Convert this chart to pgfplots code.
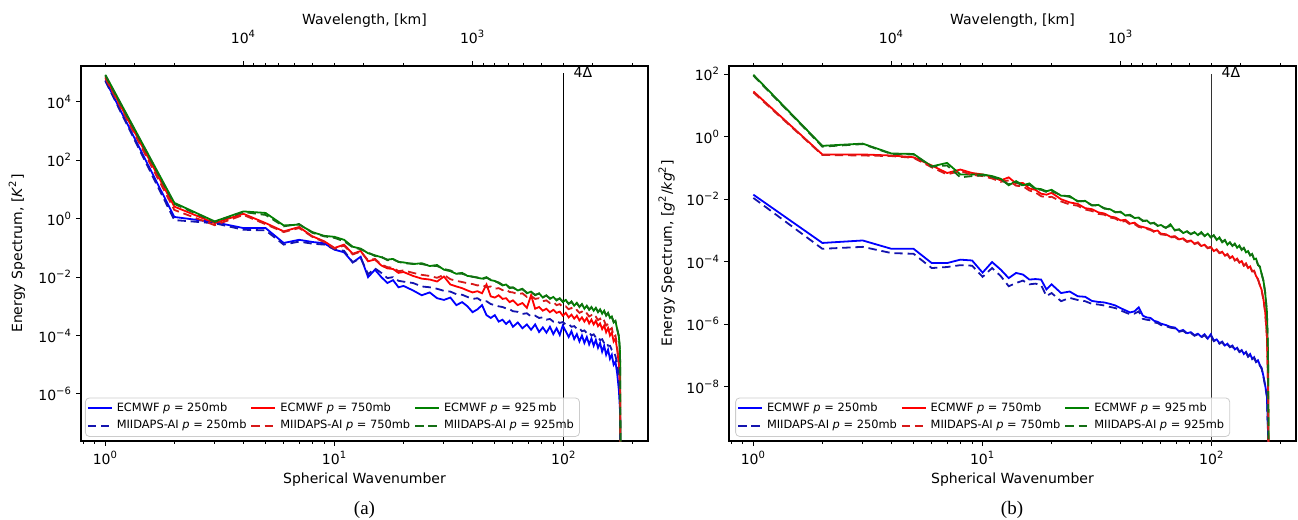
\documentclass[border=0pt]{standalone}
\usepackage{fontspec}
\setmainfont{DejaVu Sans}[ItalicFont={DejaVu Sans Oblique}]
\newfontfamily\capfont{Liberation Serif}
\usepackage{pgfplots}
\pgfplotsset{compat=1.18}
\definecolor{mblue}{RGB}{0,0,255}
\definecolor{mred}{RGB}{255,0,0}
\definecolor{mgreen}{RGB}{0,128,0}
\definecolor{dblue}{RGB}{20,20,175}
\definecolor{dred}{RGB}{215,25,25}
\definecolor{dgreen}{RGB}{20,110,20}
\pgfplotsset{legend image code/.code={\draw[#1] (0pt,0pt) -- (12pt,0pt);}}
\tikzset{mysol/.style={line width=0.9pt}, mydas/.style={line width=0.9pt, dash pattern=on 4.2pt off 2.4pt}}
\begin{document}
\begin{tikzpicture}
\useasboundingbox (0,0) rectangle (649pt,260pt);
% ================= panel (a) =================
\begin{axis}[at={(40.5pt,39.5pt)}, anchor=south west,
    scale only axis, width=283.5pt, height=187.5pt,
    xmode=log, ymode=log, xmin=0.783, xmax=233,
    ymin=2.45e-8, ymax=1.7e5,
    font=\fontsize{7}{8.4}\selectfont,
    axis line style={line width=0.6pt},
    tick align=outside, major tick length=2.5pt, minor tick length=1.5pt,
    tick style={black, line width=0.5pt},
    xtick={1,10,100},
    xticklabels={10\textsuperscript{0},10\textsuperscript{1},10\textsuperscript{2}},
    xticklabel style={yshift=0.8pt},
    yticklabel style={xshift=1.5pt},
    minor xtick={0.8,0.9,2,3,4,5,6,7,8,9,20,30,40,50,60,70,80,90,200},
    xtick pos=left, ytick pos=left,
    minor y tick style={draw=none},
    ytick={1e-6,1e-4,1e-2,1,1e2,1e4},
    yticklabels={10\textsuperscript{−6},10\textsuperscript{−4},10\textsuperscript{−2},10\textsuperscript{0},10\textsuperscript{2},10\textsuperscript{4}},
    xlabel={Spherical Wavenumber},
    xlabel style={at={(axis description cs:0.5,-0.104)}, anchor=center},
    ylabel={Energy Spectrum, [\textit{K}\textsuperscript{2}]},
    ylabel style={at={(axis description cs:-0.113,0.5)}, anchor=center},
    legend columns=3, legend cell align=left,
    legend style={at={(axis description cs:0.007,0.011)}, anchor=south west,
      font=\fontsize{5.7}{6.8}\selectfont, draw=black!20, fill=white,
      fill opacity=0.8, text opacity=1, rounded corners=2pt, inner sep=0.8pt, row sep=0pt,
      nodes={inner ysep=1.5pt}},
    legend style={every even column/.append style={column sep=13pt}},
    legend style={every odd column/.append style={column sep=3.5pt}},
]
\addplot[black, line width=0.5pt, forget plot] coordinates {(100,1e-12) (100,1e5)};
% ECMWF 250
\addplot[mysol, mblue] coordinates {(1,5.5e4)(2,1.15)(3,0.76)(4,0.48)(5,0.48)(6,0.148)(7,0.19)(8,0.16)(9,0.145)(10,0.087)(11,0.071)(12,0.032)(13,0.050)(14,0.010)(15,0.018)(16,0.010)(17,0.0063)(18,0.0079)(19,0.0045)(20,0.0050)(22,0.0035)(24,0.0024)(26,0.0030)(28,0.0019)(30,0.00166)(32,0.0020)(34,0.0011)(36,0.0014)(38,0.0010)(40,0.00063)(42,0.00079)(44,0.0011)(46,0.0005)(48,0.0004)(50,0.0005)(52,0.0003)(54,0.00035)(56,0.00025)(58,0.00032)(60,0.0002)(63,0.00028)(66,0.000178)(69,0.00024)(72,0.000158)(75,0.00024)(78,0.000132)(81,0.00019)(84,0.000126)(87,0.0002)(90,0.000112)(93,0.000178)(96,0.000105)(99,0.00022)(102,0.00014)(105,8.9e-5)(108,0.00014)(111,7.6e-5)(114,0.000112)(117,6.3e-5)(120,1.0e-4)(123,5.6e-5)(126,8.9e-5)(129,5.0e-5)(132,7.9e-5)(135,4.5e-5)(138,7.1e-5)(141,3.8e-5)(144,5.6e-5)(147,2.8e-5)(150,4.5e-5)(153,2.2e-5)(156,3.3e-5)(159,1.6e-5)(162,2.2e-5)(165,1.0e-5)(168,1.26e-5)(171,5.0e-6)(174,1.26e-6)(176,2.5e-7)(178,1e-14)};
\addlegendentry{ECMWF \textit{p} = 250mb}
% ECMWF 750
\addplot[mysol, mred] coordinates {(1,7.0e4)(2,2.6)(3,0.71)(4,1.48)(5,0.71)(6,0.37)(7,0.52)(8,0.25)(9,0.17)(10,0.10)(11,0.13)(12,0.063)(13,0.079)(14,0.035)(15,0.040)(16,0.025)(17,0.020)(18,0.019)(19,0.014)(20,0.015)(22,0.011)(24,0.0089)(26,0.0083)(28,0.0071)(30,0.0105)(32,0.0056)(34,0.0048)(36,0.0042)(38,0.0035)(40,0.0030)(42,0.0033)(44,0.0028)(46,0.0056)(48,0.0022)(50,0.0020)(52,0.0024)(54,0.0018)(56,0.0019)(58,0.0014)(60,0.0016)(63,0.0011)(66,0.0013)(69,0.00089)(72,0.0024)(75,0.00083)(78,0.00095)(81,0.00071)(84,0.00083)(87,0.00063)(90,0.00076)(93,0.0006)(96,0.00066)(99,0.00048)(102,0.0006)(105,0.00042)(108,0.00052)(111,0.00038)(114,0.00048)(117,0.00033)(120,0.00042)(123,0.0003)(126,0.0004)(129,0.00026)(132,0.00035)(135,0.00024)(138,0.00032)(141,0.00021)(144,0.00026)(147,0.000166)(150,0.00022)(153,0.00013)(156,0.00018)(159,1.0e-4)(162,0.000126)(165,6.3e-5)(168,7.9e-5)(171,3.2e-5)(174,1e-5)(176,1.6e-6)(178,1e-14)};
\addlegendentry{ECMWF \textit{p} = 750mb}
% ECMWF 925
\addplot[mysol, mgreen] coordinates {(1,8.5e4)(2,3.5)(3,0.81)(4,1.78)(5,1.58)(6,0.59)(7,0.63)(8,0.35)(9,0.26)(10,0.24)(11,0.19)(12,0.11)(13,0.095)(14,0.066)(15,0.056)(16,0.048)(17,0.040)(18,0.042)(19,0.033)(20,0.032)(22,0.028)(24,0.030)(26,0.024)(28,0.026)(30,0.018)(32,0.016)(34,0.013)(36,0.014)(38,0.011)(40,0.0105)(42,0.0095)(44,0.0089)(46,0.010)(48,0.0079)(50,0.0074)(52,0.0063)(54,0.0052)(56,0.0056)(58,0.0042)(60,0.0045)(63,0.0035)(66,0.0040)(69,0.0028)(72,0.0032)(75,0.0024)(78,0.0028)(81,0.0020)(84,0.0024)(87,0.0018)(90,0.0021)(93,0.0016)(96,0.0019)(99,0.0014)(102,0.00166)(105,0.0012)(108,0.00148)(111,0.00105)(114,0.00132)(117,0.00095)(120,0.0012)(123,0.00083)(126,0.00105)(129,0.00076)(132,0.00095)(135,0.00071)(138,0.00089)(141,0.00063)(144,0.00079)(147,0.00056)(150,0.00071)(153,0.00048)(156,0.0006)(159,0.0004)(162,0.00045)(165,0.00028)(168,0.00032)(171,0.00016)(174,8.9e-5)(176,2.5e-5)(178,1e-14)};
\addlegendentry{ECMWF \textit{p} = 925\,mb}
% MIIDAPS 250
\addplot[mydas, dblue] coordinates {(1,5.2e4)(2,0.9)(3,0.7)(4,0.42)(5,0.40)(6,0.13)(7,0.165)(8,0.14)(9,0.13)(10,0.09)(11,0.08)(12,0.032)(13,0.045)(14,0.0126)(15,0.02)(16,0.014)(17,0.0093)(18,0.01)(19,0.0075)(20,0.007)(22,0.0063)(24,0.0048)(26,0.0045)(28,0.0040)(30,0.0034)(32,0.0032)(34,0.0026)(36,0.0025)(38,0.0021)(40,0.0018)(42,0.0019)(44,0.0015)(46,0.0015)(48,0.0012)(50,0.0011)(52,0.001)(54,0.00095)(56,0.00085)(58,0.0008)(60,0.00068)(63,0.00065)(66,0.00055)(69,0.00058)(72,0.00045)(75,0.00048)(78,0.0004)(81,0.00042)(84,0.00035)(87,0.00037)(90,0.0003)(93,0.00032)(96,0.00027)(99,0.00029)(102,0.00024)(105,0.00025)(108,0.0002)(111,0.00021)(114,0.00017)(117,0.00018)(120,0.00014)(123,0.00015)(126,0.00012)(129,0.00013)(132,0.0001)(135,0.00011)(138,8.5e-5)(141,9e-5)(144,7e-5)(147,7.5e-5)(150,5.5e-5)(153,6e-5)(156,4.5e-5)(159,4.5e-5)(162,3.2e-5)(165,2.8e-5)(168,2e-5)(171,1.1e-5)(174,3e-6)(176,5e-7)(178,1e-14)};
\addlegendentry{MIIDAPS-AI \textit{p} = 250mb}
% MIIDAPS 750
\addplot[mydas, dred] coordinates {(1,6.5e4)(2,2.0)(3,0.6)(4,1.35)(5,0.65)(6,0.35)(7,0.48)(8,0.24)(9,0.16)(10,0.095)(11,0.12)(12,0.06)(13,0.075)(14,0.038)(15,0.042)(16,0.027)(17,0.022)(18,0.021)(19,0.016)(20,0.017)(22,0.014)(24,0.012)(26,0.011)(28,0.0095)(30,0.012)(32,0.0085)(34,0.0075)(36,0.0068)(38,0.0062)(40,0.0058)(42,0.0052)(44,0.0055)(46,0.0045)(48,0.0048)(50,0.0040)(52,0.0042)(54,0.0036)(56,0.0038)(58,0.0031)(60,0.0030)(63,0.0026)(66,0.0028)(69,0.0021)(72,0.0023)(75,0.0018)(78,0.0019)(81,0.0015)(84,0.0016)(87,0.0013)(90,0.0014)(93,0.0011)(96,0.0012)(99,0.00095)(102,0.001)(105,0.0008)(108,0.00088)(111,0.0007)(114,0.00075)(117,0.0006)(120,0.00066)(123,0.00052)(126,0.00058)(129,0.00045)(132,0.0005)(135,0.0004)(138,0.00044)(141,0.00034)(144,0.00038)(147,0.00028)(150,0.00032)(153,0.00022)(156,0.00025)(159,0.00016)(162,0.00018)(165,9e-5)(168,1e-4)(171,4e-5)(174,1.2e-5)(176,2e-6)(178,1e-14)};
\addlegendentry{MIIDAPS-AI \textit{p} = 750mb}
% MIIDAPS 925
\addplot[mydas, dgreen] coordinates {(1,8.0e4)(2,3.2)(3,0.78)(4,1.7)(5,1.35)(6,0.55)(7,0.66)(8,0.33)(9,0.25)(10,0.22)(11,0.17)(12,0.105)(13,0.09)(14,0.07)(15,0.053)(16,0.05)(17,0.038)(18,0.04)(19,0.034)(20,0.03)(22,0.029)(24,0.028)(26,0.025)(28,0.024)(30,0.019)(32,0.017)(34,0.0135)(36,0.013)(38,0.0115)(40,0.0102)(42,0.0098)(44,0.0085)(46,0.0095)(48,0.0082)(50,0.0072)(52,0.0066)(54,0.0055)(56,0.0054)(58,0.0045)(60,0.0043)(63,0.0037)(66,0.0038)(69,0.003)(72,0.003)(75,0.0025)(78,0.0027)(81,0.0021)(84,0.0023)(87,0.0019)(90,0.002)(93,0.0017)(96,0.0018)(99,0.0015)(102,0.0016)(105,0.00125)(108,0.0014)(111,0.0011)(114,0.00125)(117,0.001)(120,0.00115)(123,0.00088)(126,0.001)(129,0.0008)(132,0.0009)(135,0.00074)(138,0.00085)(141,0.00066)(144,0.00075)(147,0.00059)(150,0.00068)(153,0.0005)(156,0.00058)(159,0.00042)(162,0.00043)(165,0.0003)(168,0.0003)(171,0.00017)(174,9.5e-5)(176,2.8e-5)(178,1e-14)};
\addlegendentry{MIIDAPS-AI \textit{p} = 925mb}
\node[anchor=base west, inner sep=0pt] at (axis cs:110,7.0e4) {4Δ};
\end{axis}
\begin{axis}[at={(40.5pt,39.5pt)}, anchor=south west,
    scale only axis, width=283.5pt, height=187.5pt,
    xmode=log, xmin=0.783, xmax=233, ymin=0, ymax=1,
    font=\fontsize{7}{8.4}\selectfont,
    axis x line*=top, axis y line=none,
    axis line style={line width=0.6pt},
    tick align=outside, major tick length=2.5pt, minor tick length=1.5pt,
    tick style={black, line width=0.5pt},
    xtick={4.003,40.03}, xticklabels={10\textsuperscript{4},10\textsuperscript{3}},
    xticklabel style={yshift=5pt},
    minor xtick={1.00075,1.3343,2.0015,4.448,5.004,5.719,6.672,8.006,10.0075,13.343,20.015,44.48,50.04,57.19,66.72,80.06,100.075,133.43,200.15},
    xlabel={Wavelength, [km]},
    xlabel style={at={(axis description cs:0.5,1.12)}, anchor=center}]
\addplot[draw=none, forget plot] coordinates {(1,0.5)};
\end{axis}
% ================= panel (b) =================
\begin{axis}[at={(364.5pt,39.5pt)}, anchor=south west,
    scale only axis, width=283.5pt, height=187.5pt,
    xmode=log, ymode=log, xmin=0.783, xmax=233,
    ymin=1.86e-10, ymax=182,
    font=\fontsize{7}{8.4}\selectfont,
    axis line style={line width=0.6pt},
    tick align=outside, major tick length=2.5pt, minor tick length=1.5pt,
    tick style={black, line width=0.5pt},
    xtick={1,10,100},
    xticklabels={10\textsuperscript{0},10\textsuperscript{1},10\textsuperscript{2}},
    xticklabel style={yshift=0.8pt},
    yticklabel style={xshift=1.5pt},
    minor xtick={0.8,0.9,2,3,4,5,6,7,8,9,20,30,40,50,60,70,80,90,200},
    xtick pos=left, ytick pos=left,
    minor y tick style={draw=none},
    ytick={1e-8,1e-6,1e-4,1e-2,1,1e2},
    yticklabels={10\textsuperscript{−8},10\textsuperscript{−6},10\textsuperscript{−4},10\textsuperscript{−2},10\textsuperscript{0},10\textsuperscript{2}},
    xlabel={Spherical Wavenumber},
    xlabel style={at={(axis description cs:0.5,-0.104)}, anchor=center},
    ylabel={Energy Spectrum, [\textit{g}\textsuperscript{2}/\textit{kg}\textsuperscript{2}]},
    ylabel style={at={(axis description cs:-0.110,0.5)}, anchor=center},
    legend columns=3, legend cell align=left,
    legend style={at={(axis description cs:0.011,0.011)}, anchor=south west,
      font=\fontsize{5.7}{6.8}\selectfont, draw=black!20, fill=white,
      fill opacity=0.8, text opacity=1, rounded corners=2pt, inner sep=0.8pt, row sep=0pt,
      nodes={inner ysep=1.5pt}},
    legend style={every even column/.append style={column sep=13pt}},
    legend style={every odd column/.append style={column sep=3.5pt}},
]
\addplot[black!80, line width=0.5pt, forget plot] coordinates {(100,1e-14) (100,1e2)};
% ECMWF 250
\addplot[mysol, mblue] coordinates {(1,0.014)(2,4.0e-4)(3,4.8e-4)(4,2.6e-4)(5,2.6e-4)(6,9.1e-5)(7,9.1e-5)(8,1.17e-4)(9,1.1e-4)(10,4.5e-5)(11,9.8e-5)(12,5.6e-5)(13,3.0e-5)(14,4.4e-5)(15,3.9e-5)(16,2.7e-5)(17,2.8e-5)(18,2.7e-5)(19,1.3e-5)(20,1.9e-5)(22,1.0e-5)(24,1.12e-5)(26,7.9e-6)(28,7.6e-6)(30,5.6e-6)(32,5.2e-6)(34,5.0e-6)(36,4.5e-6)(38,4.0e-6)(40,3.3e-6)(42,2.8e-6)(44,2.4e-6)(46,2.6e-6)(48,3.5e-6)(50,1.9e-6)(52,1.66e-6)(54,1.6e-6)(56,1.3e-6)(58,1.2e-6)(60,1.05e-6)(63,9.5e-7)(66,8.3e-7)(69,7.9e-7)(72,6.0e-7)(75,6.6e-7)(78,5.2e-7)(81,5.6e-7)(84,4.5e-7)(87,5.0e-7)(90,4.0e-7)(93,4.8e-7)(96,3.5e-7)(99,4.8e-7)(102,3.0e-7)(105,3.3e-7)(108,2.5e-7)(111,2.8e-7)(114,2.1e-7)(117,2.4e-7)(120,1.9e-7)(123,2.1e-7)(126,1.58e-7)(129,1.78e-7)(132,1.32e-7)(135,1.5e-7)(138,1.12e-7)(141,1.32e-7)(144,9.5e-8)(147,1.12e-7)(150,7.9e-8)(153,8.9e-8)(156,6.3e-8)(159,7.1e-8)(162,5.0e-8)(165,4.0e-8)(168,2.2e-8)(171,1.1e-8)(174,5e-9)(176,3e-10)(178,1e-14)};
\addlegendentry{ECMWF \textit{p} = 250mb}
% ECMWF 750
\addplot[mysol, mred] coordinates {(1,28)(2,0.27)(3,0.27)(4,0.25)(5,0.22)(6,0.12)(7,0.069)(8,0.089)(9,0.069)(10,0.062)(11,0.052)(12,0.040)(13,0.050)(14,0.032)(15,0.033)(16,0.022)(17,0.020)(18,0.015)(19,0.014)(20,0.016)(22,0.010)(24,0.0079)(26,0.0071)(28,0.0052)(30,0.0048)(32,0.0038)(34,0.0035)(36,0.0028)(38,0.0026)(40,0.0021)(42,0.0022)(44,0.00166)(46,0.00178)(48,0.0014)(50,0.0013)(52,0.0012)(54,0.0011)(56,0.00095)(58,0.0010)(60,0.00079)(63,0.00076)(66,0.00063)(69,0.00066)(72,0.00052)(75,0.00056)(78,0.00045)(81,0.00048)(84,0.00038)(87,0.00042)(90,0.00032)(93,0.00035)(96,0.00028)(99,0.0003)(102,0.00022)(105,0.00025)(108,0.00019)(111,0.00021)(114,0.000158)(117,0.000178)(120,0.000132)(123,0.00015)(126,0.000112)(129,0.000126)(132,9.5e-5)(135,0.000105)(138,7.6e-5)(141,8.9e-5)(144,6.3e-5)(147,7.1e-5)(150,5.0e-5)(153,5.2e-5)(156,3.5e-5)(159,2.8e-5)(162,1.8e-5)(165,1.26e-5)(168,6.3e-6)(171,2.5e-6)(174,4e-7)(176,1e-8)(178,1e-14)};
\addlegendentry{ECMWF \textit{p} = 750mb}
% ECMWF 925
\addplot[mysol, mgreen] coordinates {(1,95)(2,0.51)(3,0.60)(4,0.29)(5,0.28)(6,0.112)(7,0.145)(8,0.062)(9,0.062)(10,0.062)(11,0.055)(12,0.045)(13,0.028)(14,0.038)(15,0.028)(16,0.032)(17,0.022)(18,0.021)(19,0.018)(20,0.020)(22,0.013)(24,0.0126)(26,0.0085)(28,0.0089)(30,0.0063)(32,0.0066)(34,0.0050)(36,0.0048)(38,0.0038)(40,0.0040)(42,0.0030)(44,0.0032)(46,0.0025)(48,0.0026)(50,0.0020)(52,0.0021)(54,0.00166)(56,0.00178)(58,0.0014)(60,0.0015)(63,0.0012)(66,0.00158)(69,0.0010)(72,0.0011)(75,0.00083)(78,0.00095)(81,0.00076)(84,0.00089)(87,0.00071)(90,0.00089)(93,0.00066)(96,0.00079)(99,0.0006)(102,0.00071)(105,0.0005)(108,0.0006)(111,0.00042)(114,0.0005)(117,0.00035)(120,0.00042)(123,0.00032)(126,0.00038)(129,0.00028)(132,0.00033)(135,0.00024)(138,0.00028)(141,0.0002)(144,0.00022)(147,0.000158)(150,0.000178)(153,0.00012)(156,0.000126)(159,7.9e-5)(162,7.1e-5)(165,4.0e-5)(168,2.5e-5)(171,1.0e-5)(174,2.5e-6)(176,1e-7)(178,1e-14)};
\addlegendentry{ECMWF \textit{p} = 925\,mb}
% MIIDAPS 250
\addplot[mydas, dblue] coordinates {(1,0.011)(2,2.6e-4)(3,3.0e-4)(4,1.9e-4)(5,1.8e-4)(6,6.3e-5)(7,6.8e-5)(8,7.8e-5)(9,7.5e-5)(10,3.3e-5)(11,6.3e-5)(12,3.5e-5)(13,1.65e-5)(14,2.1e-5)(15,2.5e-5)(16,1.9e-5)(17,2.0e-5)(18,1.8e-5)(19,8e-6)(20,1.0e-5)(22,5.5e-6)(24,7e-6)(26,6e-6)(28,5.5e-6)(30,4.5e-6)(32,4.3e-6)(34,4e-6)(36,3.6e-6)(38,3.3e-6)(40,2.8e-6)(42,2.4e-6)(44,2.1e-6)(46,2.2e-6)(48,2.6e-6)(50,1.5e-6)(52,1.4e-6)(54,1.35e-6)(56,1.15e-6)(58,1.1e-6)(60,9.5e-7)(63,8.8e-7)(66,7.8e-7)(69,7.4e-7)(72,5.8e-7)(75,6.2e-7)(78,5.0e-7)(81,5.3e-7)(84,4.3e-7)(87,4.8e-7)(90,3.8e-7)(93,4.5e-7)(96,3.4e-7)(99,4.4e-7)(102,2.9e-7)(105,3.2e-7)(108,2.4e-7)(111,2.7e-7)(114,2.0e-7)(117,2.3e-7)(120,1.85e-7)(123,2.0e-7)(126,1.5e-7)(129,1.7e-7)(132,1.3e-7)(135,1.45e-7)(138,1.1e-7)(141,1.25e-7)(144,9.2e-8)(147,1.05e-7)(150,7.7e-8)(153,8.5e-8)(156,6.2e-8)(159,6.8e-8)(162,4.8e-8)(165,3.8e-8)(168,2.1e-8)(171,1.05e-8)(174,4.8e-9)(176,3e-10)(178,1e-14)};
\addlegendentry{MIIDAPS-AI \textit{p} = 250mb}
% MIIDAPS 750
\addplot[mydas, dred] coordinates {(1,26)(2,0.26)(3,0.25)(4,0.24)(5,0.21)(6,0.105)(7,0.062)(8,0.08)(9,0.06)(10,0.055)(11,0.046)(12,0.036)(13,0.04)(14,0.027)(15,0.026)(16,0.019)(17,0.0165)(18,0.0125)(19,0.0115)(20,0.012)(22,0.0085)(24,0.0068)(26,0.0062)(28,0.0047)(30,0.0042)(32,0.0034)(34,0.0032)(36,0.0026)(38,0.0024)(40,0.0019)(42,0.002)(44,0.00155)(46,0.0016)(48,0.0013)(50,0.00122)(52,0.00112)(54,0.00104)(56,0.0009)(58,0.00092)(60,0.00075)(63,0.00072)(66,0.0006)(69,0.00062)(72,0.0005)(75,0.00053)(78,0.00043)(81,0.00046)(84,0.00037)(87,0.0004)(90,0.00031)(93,0.00034)(96,0.00027)(99,0.00029)(102,0.00022)(105,0.00024)(108,0.00019)(111,0.0002)(114,0.000155)(117,0.00017)(120,0.00013)(123,0.000145)(126,0.00011)(129,0.00012)(132,9.3e-5)(135,0.0001)(138,7.5e-5)(141,8.6e-5)(144,6.2e-5)(147,6.8e-5)(150,4.9e-5)(153,5e-5)(156,3.4e-5)(159,2.7e-5)(162,1.8e-5)(165,1.2e-5)(168,6e-6)(171,2.4e-6)(174,4e-7)(176,1e-8)(178,1e-14)};
\addlegendentry{MIIDAPS-AI \textit{p} = 750mb}
% MIIDAPS 925
\addplot[mydas, dgreen] coordinates {(1,90)(2,0.48)(3,0.58)(4,0.28)(5,0.27)(6,0.11)(7,0.12)(8,0.05)(9,0.055)(10,0.058)(11,0.052)(12,0.042)(13,0.03)(14,0.035)(15,0.027)(16,0.029)(17,0.021)(18,0.02)(19,0.017)(20,0.018)(22,0.0135)(24,0.0118)(26,0.0088)(28,0.0085)(30,0.0065)(32,0.0062)(34,0.0052)(36,0.0046)(38,0.0039)(40,0.0038)(42,0.0031)(44,0.003)(46,0.0026)(48,0.0025)(50,0.0021)(52,0.002)(54,0.0017)(56,0.0017)(58,0.00145)(60,0.0014)(63,0.00125)(66,0.0014)(69,0.00105)(72,0.00105)(75,0.00086)(78,0.0009)(81,0.00078)(84,0.00085)(87,0.00073)(90,0.00083)(93,0.00068)(96,0.00074)(99,0.00062)(102,0.00068)(105,0.00052)(108,0.00057)(111,0.00044)(114,0.00048)(117,0.00036)(120,0.0004)(123,0.00033)(126,0.00036)(129,0.00029)(132,0.00031)(135,0.00025)(138,0.00027)(141,0.00021)(144,0.00021)(147,0.000165)(150,0.00017)(153,0.000125)(156,0.00012)(159,8.2e-5)(162,6.8e-5)(165,4.2e-5)(168,2.4e-5)(171,1.05e-5)(174,2.4e-6)(176,1e-7)(178,1e-14)};
\addlegendentry{MIIDAPS-AI \textit{p} = 925mb}
\node[anchor=base west, inner sep=0pt] at (axis cs:110,78) {4Δ};
\end{axis}
\begin{axis}[at={(364.5pt,39.5pt)}, anchor=south west,
    scale only axis, width=283.5pt, height=187.5pt,
    xmode=log, xmin=0.783, xmax=233, ymin=0, ymax=1,
    font=\fontsize{7}{8.4}\selectfont,
    axis x line*=top, axis y line=none,
    axis line style={line width=0.6pt},
    tick align=outside, major tick length=2.5pt, minor tick length=1.5pt,
    tick style={black, line width=0.5pt},
    xtick={4.003,40.03}, xticklabels={10\textsuperscript{4},10\textsuperscript{3}},
    xticklabel style={yshift=5pt},
    minor xtick={1.00075,1.3343,2.0015,4.448,5.004,5.719,6.672,8.006,10.0075,13.343,20.015,44.48,50.04,57.19,66.72,80.06,100.075,133.43,200.15},
    xlabel={Wavelength, [km]},
    xlabel style={at={(axis description cs:0.5,1.12)}, anchor=center}]
\addplot[draw=none, forget plot] coordinates {(1,0.5)};
\end{axis}
% captions
\node[font=\capfont\fontsize{9.5}{11}\selectfont] at (182.25pt,5pt) {(a)};
\node[font=\capfont\fontsize{9.5}{11}\selectfont] at (506pt,5pt) {(b)};
\end{tikzpicture}
\end{document}
